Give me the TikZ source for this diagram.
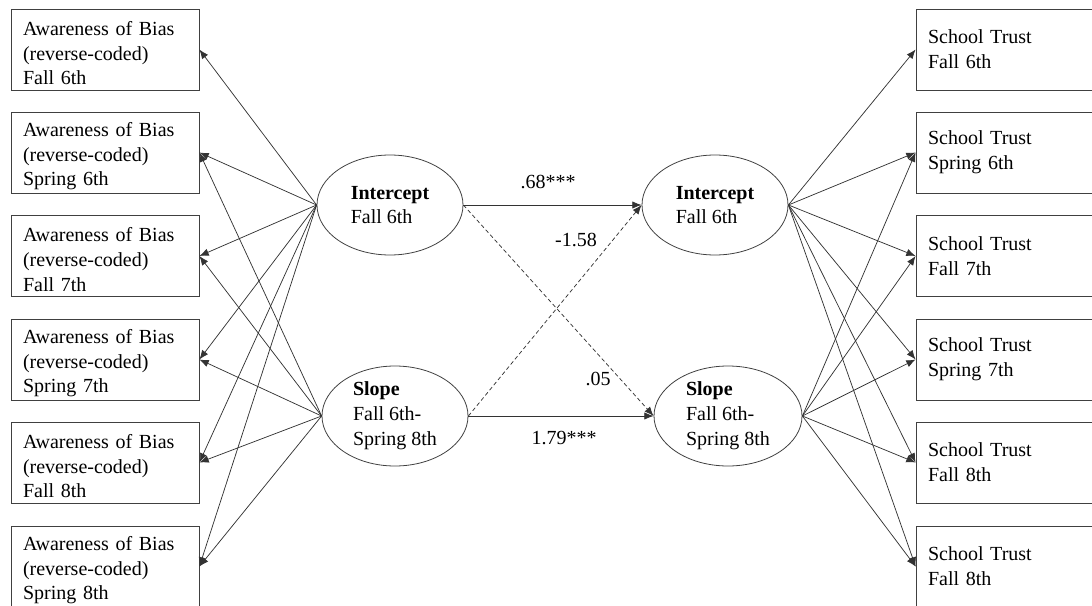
\documentclass[tikz,border=0pt]{standalone}
\usepackage{fontspec}
\setmainfont{Liberation Serif}
\usetikzlibrary{arrows.meta,shapes.geometric}
\begin{document}
\begin{tikzpicture}[x=0.75pt,y=-0.75pt,
  font=\fontsize{15pt}{18.6pt}\selectfont,
  lbox/.style={draw=black!75,line width=0.6pt,rectangle,minimum width=141pt,minimum height=60.75pt,
    inner xsep=9pt,inner ysep=0pt,text width=123pt,align=left,
    execute at begin node={\rule{0pt}{16pt}}},
  rbox/.style={draw=black!75,line width=0.6pt,rectangle,minimum width=142.5pt,minimum height=60.75pt,
    inner xsep=9pt,text width=124.5pt,align=left},
  latent/.style={draw=black!75,line width=0.6pt,ellipse,minimum width=109.5pt,minimum height=75pt,inner sep=0pt,align=left},
  conn/.style={draw=black!80,line width=0.55pt,-{Latex[length=7pt,width=5.5pt]}},
  dconn/.style={conn,dash pattern=on 3pt off 2pt},
  lab/.style={inner sep=0pt}]
\useasboundingbox (0,0) rectangle (1092,606);
\clip (0,0) rectangle (1092,606);
% left boxes
\node[lbox] (a1) at (105,49.5) {Awareness of Bias\\(reverse-coded)\\Fall 6th};
\node[lbox] (a2) at (105,152.5) {Awareness of Bias\\(reverse-coded)\\Spring 6th};
\node[lbox] (a3) at (105,256) {Awareness of Bias\\(reverse-coded)\\Fall 7th};
\node[lbox] (a4) at (105,359.5) {Awareness of Bias\\(reverse-coded)\\Spring 7th};
\node[lbox] (a5) at (105,462.5) {Awareness of Bias\\(reverse-coded)\\Fall 8th};
\node[lbox] (a6) at (105,566.5) {Awareness of Bias\\(reverse-coded)\\Spring 8th};
% right boxes
\node[rbox] (s1) at (1011,49.5) {School Trust\\Fall 6th};
\node[rbox] (s2) at (1011,152.5) {School Trust\\Spring 6th};
\node[rbox] (s3) at (1011,256) {School Trust\\Fall 7th};
\node[rbox] (s4) at (1011,359.5) {School Trust\\Spring 7th};
\node[rbox] (s5) at (1011,462.5) {School Trust\\Fall 8th};
\node[rbox] (s6) at (1011,566.5) {School Trust\\Fall 8th};
% latent ellipses
\node[latent] (li) at (390,205) {\textbf{Intercept}\\Fall 6th};
\node[latent] (ls) at (395,416) {\textbf{Slope}\\Fall 6th-\\Spring 8th};
\node[latent] (ri) at (715,205) {\textbf{Intercept}\\Fall 6th};
\node[latent,minimum width=111pt] (rs) at (728,416) {\textbf{Slope}\\Fall 6th-\\Spring 8th};
% left loadings
\foreach \b in {a1,a2,a3,a4,a5,a6} \draw[conn] (li.west) -- (\b.east);
\foreach \b in {a2,a3,a4,a5,a6} \draw[conn] (ls.west) -- (\b.east);
% right loadings
\foreach \b in {s1,s2,s3,s4,s5,s6} \draw[conn] (ri.east) -- (\b.west);
\foreach \b in {s2,s3,s4,s5,s6} \draw[conn] (rs.east) -- (\b.west);
% structural paths
\draw[conn] (li.east) -- (ri.west);
\draw[conn] (ls.east) -- (rs.west);
\draw[dconn] (li.east) -- (rs.west);
\draw[dconn] (ls.east) -- (ri.west);
% labels
\node[lab] (l1) at (548,182) {.68***};
\node[lab] (l2) at (576,240) {-1.58};
\node[lab] (l3) at (598,379) {.05};
\node[lab] (l4) at (564,438) {1.79***};
\end{tikzpicture}
\end{document}
